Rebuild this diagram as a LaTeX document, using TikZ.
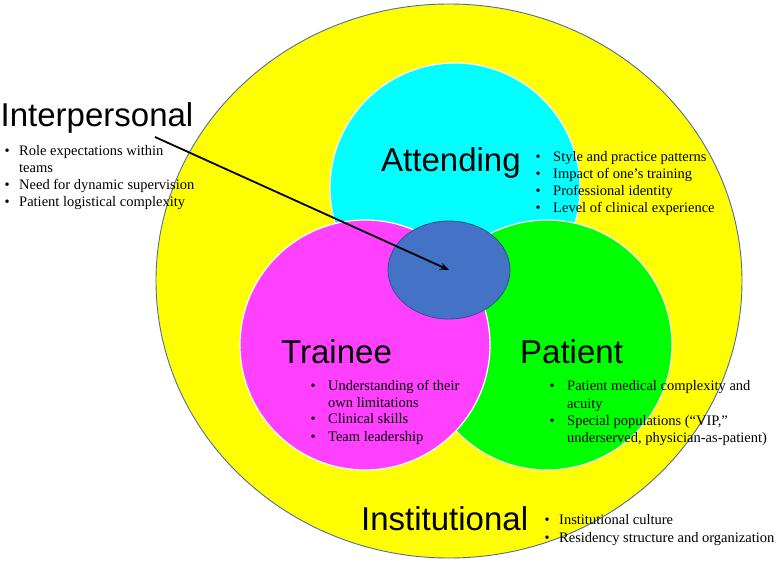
\documentclass[tikz,border=0pt]{standalone}
\usepackage{fontspec}
\setmainfont{Liberation Serif}
\newfontfamily\headfont{Liberation Sans}
\usetikzlibrary{shapes.geometric,arrows.meta}
\definecolor{ylw}{HTML}{FFFF00}
\definecolor{ylwedge}{HTML}{4F6E9C}
\definecolor{cyn}{HTML}{00FFFF}
\definecolor{mag}{HTML}{FF40FF}
\definecolor{grn}{HTML}{00FF00}
\definecolor{core}{HTML}{4472C4}
\definecolor{coreedge}{HTML}{2F528F}
\begin{document}
\begin{tikzpicture}[x=1pt,y=-1pt,
  disc/.style={circle,draw=white,line width=1.2pt,minimum size=250pt,inner sep=0pt},
  head/.style={font=\headfont\fontsize{33}{36}\selectfont,anchor=base west,inner sep=0pt},
  itemtext/.style={font=\fontsize{14.5}{17}\selectfont,anchor=base west,inner sep=0pt},
  bulletmark/.style={font=\fontsize{14.5}{17}\selectfont,anchor=base west,inner sep=0pt}]
\useasboundingbox (0,0) rectangle (780,564);
\fill[white] (0,0) rectangle (780,564);

% circles
\node[ellipse,fill=ylw,draw=ylwedge,line width=0.9pt,minimum width=586pt,minimum height=554pt,inner sep=0pt] (inst) at (449,281) {};
\node[disc,fill=cyn] (att) at (455,188) {};
\node[disc,fill=grn] (pat) at (547,345) {};
\node[disc,fill=mag] (tra) at (365,345) {};
\node[ellipse,fill=core,draw=coreedge,line width=0.8pt,minimum width=122pt,minimum height=98pt,inner sep=0pt] (core) at (449,270) {};

% arrow
\coordinate (arrowstart) at (155,137);
\draw[line width=1.8pt,-{Stealth[length=9pt,width=7pt]}] (arrowstart) -- (core.center);

% headings
\node[head] (hInter) at (0.5,127) {Interpersonal};
\node[head] (hAtt) at (381,172) {Attending};
\node[head] (hTra) at (281,363) {Trainee};
\node[head] (hPat) at (520,363) {Patient};
\node[head] (hInst) at (361,530) {Institutional};

% Interpersonal items
\node[bulletmark] (bI1) at (4.5,156) {\textbullet};
\node[itemtext] (tI1) at (19,156) {Role expectations within};
\node[itemtext] (tI1b) at (19,173) {teams};
\node[bulletmark] (bI2) at (4.5,190) {\textbullet};
\node[itemtext] (tI2) at (19,190) {Need for dynamic supervision};
\node[bulletmark] (bI3) at (4.5,207) {\textbullet};
\node[itemtext] (tI3) at (19,207) {Patient logistical complexity};

% Attending items
\node[bulletmark] (bA1) at (535.5,162) {\textbullet};
\node[itemtext] (tA1) at (553,162) {Style and practice patterns};
\node[bulletmark] (bA2) at (535.5,179) {\textbullet};
\node[itemtext] (tA2) at (553,179) {Impact of one’s training};
\node[bulletmark] (bA3) at (535.5,196) {\textbullet};
\node[itemtext] (tA3) at (553,196) {Professional identity};
\node[bulletmark] (bA4) at (535.5,213) {\textbullet};
\node[itemtext] (tA4) at (553,213) {Level of clinical experience};

% Trainee items
\node[bulletmark] (bT1) at (310.5,390) {\textbullet};
\node[itemtext] (tT1) at (328,390) {Understanding of their};
\node[itemtext] (tT1b) at (328,407) {own limitations};
\node[bulletmark] (bT2) at (310.5,424) {\textbullet};
\node[itemtext] (tT2) at (328,424) {Clinical skills};
\node[bulletmark] (bT3) at (310.5,441) {\textbullet};
\node[itemtext] (tT3) at (328,441) {Team leadership};

% Patient items
\node[bulletmark] (bP1) at (549.5,391) {\textbullet};
\node[itemtext] (tP1) at (567,391) {Patient medical complexity and};
\node[itemtext] (tP1b) at (567,408) {acuity};
\node[bulletmark] (bP2) at (549.5,425) {\textbullet};
\node[itemtext] (tP2) at (567,425) {Special populations (“VIP,”};
\node[itemtext] (tP2b) at (567,442) {underserved, physician-as-patient)};

% Institutional items
\node[bulletmark] (bN1) at (544.5,524) {\textbullet};
\node[itemtext] (tN1) at (559,524) {Institutional culture};
\node[bulletmark] (bN2) at (544.5,542) {\textbullet};
\node[itemtext] (tN2) at (559,542) {Residency structure and organization};
\end{tikzpicture}
\end{document}
